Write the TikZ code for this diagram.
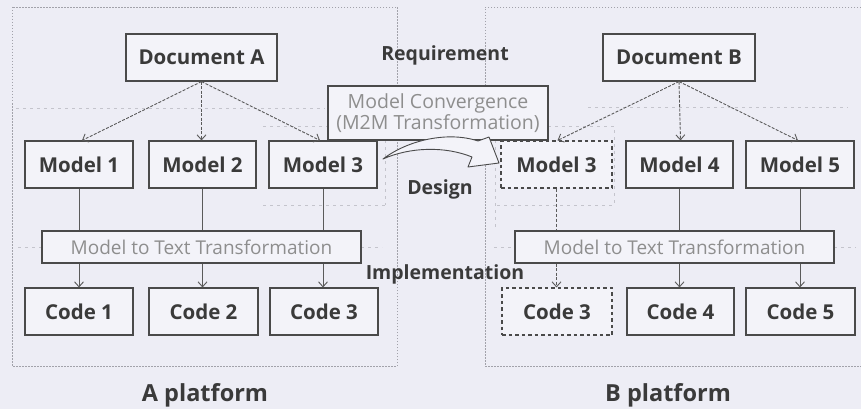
\documentclass[tikz,border=0pt]{standalone}
\usepackage{fontspec}
\setmainfont{Open Sans}
\usetikzlibrary{arrows.meta}
\definecolor{bg}{HTML}{EDEDF5}
\definecolor{boxfill}{HTML}{F3F3F9}
\definecolor{frame}{HTML}{4A4A4A}
\definecolor{txt}{HTML}{3A3A3A}
\definecolor{light}{HTML}{8E8E8E}
\definecolor{dots}{HTML}{A2A2AA}
\definecolor{conn}{HTML}{5A5A5A}
\begin{document}
\begin{tikzpicture}[x=1pt,y=-1pt,
  box/.style={draw=frame, line width=1.1pt, fill=boxfill, minimum width=108pt, minimum height=47pt, inner sep=0pt, font=\fontsize{20.5}{24}\selectfont\bfseries, text=txt},
  dbox/.style={box, dash pattern=on 3.5pt off 3pt},
  tbox/.style={draw=frame, line width=1.1pt, fill=boxfill, minimum width=319pt, minimum height=32pt, inner sep=0pt, font=\fontsize{19}{22}\selectfont, text=light},
  layer/.style={font=\fontsize{19.5}{22}\selectfont\bfseries, text=txt, inner sep=0pt},
  plat/.style={font=\fontsize{23.5}{27}\selectfont\bfseries, text=txt, inner sep=0pt},
  frm/.style={draw=dots, line width=0.8pt, dash pattern=on 1.5pt off 1.5pt},
  faint/.style={draw=dots!55!bg, line width=0.8pt, dash pattern=on 3pt off 4pt},
  darr/.style={draw=conn, line width=0.9pt, dash pattern=on 3pt off 1.5pt, -{Straight Barb[length=5pt,width=9pt]}},
  sarr/.style={draw=conn, line width=0.9pt, -{Straight Barb[length=5pt,width=9pt]}},
  sline/.style={draw=conn, line width=0.9pt},
  dline/.style={draw=conn, line width=0.9pt, dash pattern=on 3pt off 2pt}
]
\fill[bg] (0,0) rectangle (861,409);
\useasboundingbox (0,0) rectangle (861,409);

% platform frames
\draw[frm] (12,7) rectangle (397,366);
\draw[frm] (861,7) -- (485,7) -- (485,366) -- (861,366);

% faint layer lines
\draw[faint] (16,108) -- (325,108);
\draw[faint] (588,107) -- (848,107);
\draw[faint] (263,126) -- (328,126);
\draw[faint] (385,126) -- (385,205);
\draw[faint] (263,205) -- (385,205);
\draw[faint] (548,126) -- (614,126) -- (614,205);
\draw[faint] (495,140) -- (495,230);
\draw[faint] (497,205) -- (614,205);
\draw[faint] (18,247) -- (42,247);
\draw[faint] (361,247) -- (382,247);
\draw[faint] (494,247) -- (515,247);
\draw[faint] (834,247) -- (856,247);

% documents
\node[box, minimum width=151pt] (docA) at (201.5,57.5) {Document A};
\node[box, minimum width=152pt] (docB) at (679,57.5) {Document B};

% models
\node[box] (m1) at (79,164.5) {Model 1};
\node[box, minimum width=107pt] (m2) at (202.5,164.5) {Model 2};
\node[box] (m3a) at (323,164.5) {Model 3};
\node[dbox, minimum width=111pt] (m3b) at (556.5,164.5) {Model 3};
\node[box, minimum width=107pt] (m4) at (679.5,164.5) {Model 4};
\node[box] (m5) at (800,164.5) {Model 5};

% vertical lines behind transformation boxes
\draw[sline] (m1.south) -- ++(0,43);
\draw[sline] (m2.south) -- ++(0,43);
\draw[sline] (m3a.south) -- ++(0,43);
\draw[dline] (m3b.south) -- ++(0,43);
\draw[sline] (m4.south) -- ++(0,43);
\draw[sline] (m5.south) -- ++(0,43);

% transformation boxes
\node[tbox] (tA) at (201.5,247) {Model to Text Transformation};
\node[tbox] (tB) at (674.5,247) {Model to Text Transformation};

% codes
\node[box] (c1) at (79,311.5) {Code 1};
\node[box, minimum width=109pt] (c2) at (203.5,311.5) {Code 2};
\node[box] (c3a) at (324,311.5) {Code 3};
\node[dbox, minimum width=110pt] (c3b) at (557,311.5) {Code 3};
\node[box, minimum width=107pt] (c4) at (680.5,311.5) {Code 4};
\node[box, minimum width=109pt] (c5) at (800.5,311.5) {Code 5};

% document arrows
\draw[darr] (docA.south) -- ([xshift=3pt]m1.north);
\draw[darr] (docA.south) -- ([xshift=-1pt]m2.north);
\draw[darr] (docA.south) -- ([xshift=-3pt]m3a.north);
\draw[darr] (docB.south) -- ([xshift=1pt]m3b.north);
\draw[darr] (docB.south) -- ([xshift=1pt]m4.north);
\draw[darr] (docB.south) -- ([xshift=-2pt]m5.north);

% code arrows
\draw[sarr] (m1.south |- tA.south) -- (m1.south |- c1.north);
\draw[sarr] (m2.south |- tA.south) -- (m2.south |- c2.north);
\draw[sarr] (m3a.south |- tA.south) -- (m3a.south |- c3a.north);
\draw[darr] (m3b.south |- tB.south) -- (m3b.south |- c3b.north);
\draw[sarr] (m4.south |- tB.south) -- (m4.south |- c4.north);
\draw[sarr] (m5.south |- tB.south) -- (m5.south |- c5.north);

% convergence box
\node[draw=frame, line width=1.1pt, fill=boxfill, minimum width=220pt, minimum height=54pt, inner sep=0pt, align=center, font=\fontsize{19.5}{21}\selectfont, text=light] (conv) at (438,113) {Model Convergence\\(M2M Transformation)};

% curved block arrow
\draw[draw=frame, line width=0.9pt, fill=boxfill, line join=round]
  (383,159) .. controls (408,140) and (448,131) .. (478,141)
  -- (489,137) -- (499,163) -- (468,167) -- (472,157)
  .. controls (445,146) and (410,147) .. cycle;

% layer labels
\node[layer] (req) at (445,55) {Requirement};
\node[layer] (des) at (440,189) {Design};
\node[layer] (imp) at (445,274) {Implementation};

% platform labels
\node[plat] (pa) at (205,395) {A platform};
\node[plat] (pb) at (668,395) {B platform};
\end{tikzpicture}
\end{document}
